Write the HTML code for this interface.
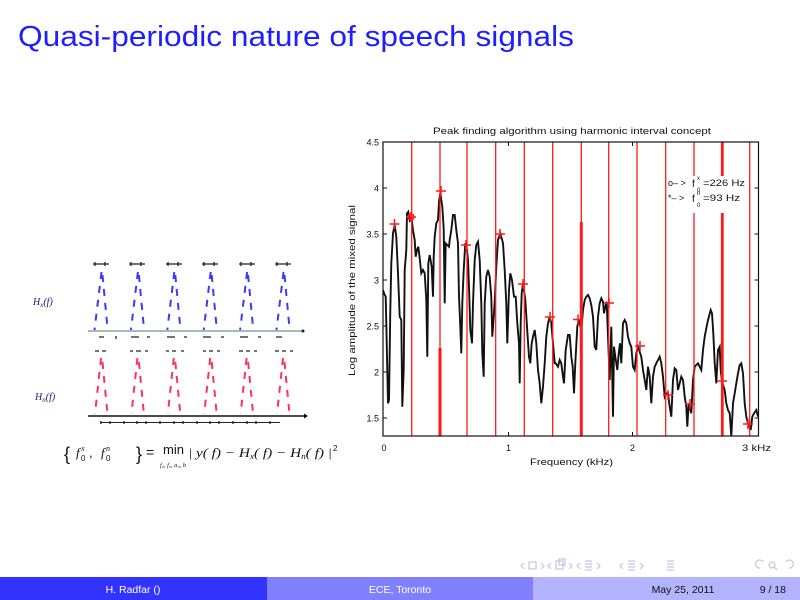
<!DOCTYPE html>
<html><head><meta charset="utf-8"><style>
html,body{margin:0;padding:0;background:#fff;width:800px;height:600px;overflow:hidden}
svg{display:block}
text{font-family:"Liberation Sans",sans-serif}
.ser{font-family:"Liberation Serif",serif;font-style:italic}
</style></head><body>
<svg width="800" height="600" viewBox="0 0 800 600" xmlns="http://www.w3.org/2000/svg">
<rect width="800" height="600" fill="#fff"/>
<!-- Title -->
<text x="18" y="46" font-size="29" fill="#1e1eff" textLength="556" lengthAdjust="spacingAndGlyphs">Quasi-periodic nature of speech signals</text>

<!-- ===== Left diagram ===== -->
<g stroke-width="2" fill="none" stroke-dasharray="7 7">
  <g stroke="#3a3aff">
    <path d="M101.5 272 L94.5 330 M102.5 275 L107.5 328"/>
    <path d="M137.9 272 L130.9 330 M138.9 275 L143.9 328"/>
    <path d="M174.3 272 L167.3 330 M175.3 275 L180.3 328"/>
    <path d="M210.7 272 L203.7 330 M211.7 275 L216.7 328"/>
    <path d="M247.1 272 L240.1 330 M248.1 275 L253.1 328"/>
    <path d="M283.5 272 L276.5 330 M284.5 275 L289.5 328"/>
  </g>
  <g stroke="#ff3355">
    <path d="M101 358 L95 414 M102.5 362 L107.5 414"/>
    <path d="M137.4 358 L131.4 414 M138.9 362 L143.9 414"/>
    <path d="M173.8 358 L167.8 414 M175.3 362 L180.3 414"/>
    <path d="M210.2 358 L204.2 414 M211.7 362 L216.7 414"/>
    <path d="M246.6 358 L240.6 414 M248.1 362 L253.1 414"/>
    <path d="M283 358 L277 414 M284.5 362 L289.5 414"/>
  </g>
</g>
<line x1="88" y1="331" x2="303" y2="331" stroke="#a9b9b9" stroke-width="2"/>
<circle cx="303" cy="331" r="1.5" fill="#222"/>
<line x1="88" y1="416" x2="304" y2="416" stroke="#111" stroke-width="1.5"/>
<path d="M304 413.5 L308 416 L304 418.5Z" fill="#111"/>
<g stroke="#222" stroke-width="1.3">
  <path d="M93 264 h16 M95 262v4 M105 262v4"/>
  <path d="M129 264 h16 M131 262v4 M141 262v4"/>
  <path d="M166 264 h16 M168 262v4 M178 262v4"/>
  <path d="M202 264 h16 M204 262v4 M214 262v4"/>
  <path d="M239 264 h16 M241 262v4 M251 262v4"/>
  <path d="M275 264 h16 M277 262v4 M287 262v4"/>
  <path d="M99 337 h5 M116 336v3 M131 337 h8 M147 337 h3 M167 337 h8 M184 337 h3 M203 337 h8 M221 337 h3 M240 337 h8 M258 337 h3 M276 337 h6"/>
  <path d="M95 351 h4 M102 351 h4 M130 351 h3 M136 351 h5 M145 351 h3 M166 351 h3 M172 351 h4 M181 351 h3 M203 351 h3 M209 351 h4 M217 351 h3 M239 351 h4 M246 351 h4 M254 351 h3 M275 351 h4 M282 351 h4 M290 351 h3"/>
  <path d="M100 422.5 H280" stroke-width="1"/>
  <path d="M101 421 v3 M110 421v3 M124 421v3 M137 421v3 M146 421v3 M160 421v3 M174 421v3 M183 421v3 M197 421v3 M210 421v3 M219 421v3 M233 421v3 M247 421v3 M256 421v3 M270 421v3"/>
</g>
<text x="33" y="305" class="ser" font-size="10" fill="#1a1a80">H<tspan font-size="7" dy="2">x</tspan><tspan dy="-2">(f)</tspan></text>
<text x="35" y="400" class="ser" font-size="10" fill="#1a1a80">H<tspan font-size="7" dy="2">n</tspan><tspan dy="-2">(f)</tspan></text>
<!-- formula -->
<g fill="#111">
<text x="64" y="460" font-family="Liberation Serif,serif" font-size="18">{</text>
<text x="76" y="457" class="ser" font-size="13">f</text>
<text x="81" y="461" font-family="Liberation Serif,serif" font-size="8">0</text>
<text x="81" y="451" class="ser" font-size="8">x</text>
<text x="89" y="457" font-family="Liberation Serif,serif" font-size="13">,</text>
<text x="101" y="457" class="ser" font-size="13">f</text>
<text x="106" y="461" font-family="Liberation Serif,serif" font-size="8">0</text>
<text x="106" y="451" class="ser" font-size="8">n</text>
<text x="136" y="460" font-family="Liberation Serif,serif" font-size="18">}</text>
<text x="146" y="457" font-family="Liberation Serif,serif" font-size="14">=</text>
<text x="163" y="454" font-family="Liberation Serif,serif" font-size="13" textLength="21" lengthAdjust="spacingAndGlyphs">min</text>
<text x="160" y="467" class="ser" font-size="6" textLength="26" lengthAdjust="spacingAndGlyphs">f₀, f₀, a₀, b</text>
<text x="188" y="457" class="ser" font-size="13" textLength="144" lengthAdjust="spacingAndGlyphs">| y( f) − H<tspan font-size="8" dy="2">x</tspan><tspan dy="-2">( f) − H</tspan><tspan font-size="8" dy="2">n</tspan><tspan dy="-2">( f) |</tspan></text>
<text x="333" y="451" font-family="Liberation Serif,serif" font-size="8">2</text>
</g>

<!-- ===== Right chart ===== -->
<text x="433" y="134" font-size="9.5" fill="#111" textLength="278" lengthAdjust="spacingAndGlyphs">Peak finding algorithm using harmonic interval concept</text>
<defs><clipPath id="pc"><rect x="383" y="142" width="375.5" height="294"/></clipPath></defs>
<g clip-path="url(#pc)">
<polyline fill="none" stroke="#111" stroke-width="1.9" stroke-linejoin="miter" points="
383,290 384.0,293.3 385.7,296.7 386.3,323.3 388,403.3 389,400 390.3,310 391.3,263.3 393,233.3 394.7,225 396.3,236.7 398,273.3 399.7,316.7 401.3,320 402.3,406.7 403.7,370 404.7,270 406.3,250 407,213.3 408.3,211.7 409.7,220 411.3,216.7 413,230 414.7,240 415.7,256.7 417,250 418.3,246.7 419.7,258.3 421.3,273.3 423,270 424.7,273.3 426.3,300 427.3,356.7 428.3,263.3 429.7,255 431.7,266.7 433,296.7 433.7,256.7 434.7,236.7 436.3,223.3 438,220 439,201.7 440.3,193.3 442.3,206.7 443.7,228.3 444.7,303.3 445.7,243.3 447.3,245 449,246.7 449.7,240 451.3,230 453,215 454.7,215 456.3,230 458,243.3 459,296.7 460.3,326.7 461.3,353.3 462.3,303.3 463.7,270 465.3,243.3 467,250 468,260 469,286.7 470.3,330 472,343.3 473,303.3 474.7,260 476.3,245 478,241.7 479.7,260 481.3,303.3 482.3,353.3 483.7,376.7 484.7,303.3 486.3,276.7 488,270 489.7,276.7 491.3,296.7 492.3,336.7 494,313.3 495,296.7 496.3,266.7 498,240 500.3,233.3 503,243.3 504.7,270 506.3,303.3 507.3,343.3 509,290 510.3,273.3 512,280 514,296.7 515.7,296.7 517.3,323.3 519,343.3 519.7,383.3 520.7,323.3 521.7,293.3 523,283.3 525.3,300 527,326.7 529,356.7 530.3,363.3 531.7,343.3 533,336.7 534.7,330 536.3,343.3 538,370 539.7,383.3 541.3,403.3 543,386.7 544.7,363.3 546.3,336.7 548,323.3 549.7,316.7 551.3,323.3 553,343.3 554.7,363.3 555.7,363.3 558,366.7 559.7,360 561.3,363.3 563,376.7 564,383.3 565.7,350 568,335 569.7,335 571.3,356.7 572.7,366.7 574,393.3 575.3,363.3 577.3,326.7 578.7,320 579.7,323.3 581.3,330 583,310 584.7,300 586.3,296.7 588,295 589.7,298.3 591.3,305 593,316.7 594.7,346.7 596.3,350 598,316.7 599.7,303.3 601.3,298.3 603,301.7 604,313.3 605.3,306.7 606.7,301.7 608,336.7 609.7,380 611.3,326.7 613,416.7 614,346.7 615.3,356.7 617.3,370 618.7,353.3 620,343.3 621.3,363.3 623,323.3 624.7,320 626.3,323.3 628,336.7 629.7,343.3 631.3,346.7 633,366.7 634.7,370 636.3,353.3 638,346.7 641.3,356.7 643,370 644.7,380 646.3,390 648,366.7 649.7,376.7 651.3,403.3 653,376.7 654.7,366.7 656.3,363.3 658,360 659.7,356.7 661.3,363.3 663,376.7 664.7,396.7 666.3,393.3 668,393.3 669.7,406.7 671.3,416.7 673,380 674.7,368.3 676.3,370 678,390 679.7,383.3 681.3,376.7 683,380 684.7,396.7 686.3,406.7 687.3,426.7 688.7,403.3 691.3,413.3 693,380 694.7,366.7 696.3,365 698,363.3 699.7,366.7 701.3,370 703,350 704.7,336.7 706.3,328.3 708,320 710.7,310 712,313.3 713.3,333.3 714.7,363.3 716.3,383.3 718,350 719.7,346.7 720.7,370 722,381.7 724.7,390 726.3,403.3 728,410 729.7,413.3 731.3,436.7 733,403.3 734.7,393.3 736.3,383.3 738,373.3 739.7,365 741.3,363.3 743,373.3 744.7,403.3 746.3,416.7 748,423.3 750.7,430 752.3,416.7 754,413.3 756.3,410 758,416.7"/>
<!-- red harmonic lines -->
<g stroke="#ff1a1a" stroke-width="1.3">
  <line x1="411.7" y1="142" x2="411.7" y2="436"/>
  <line x1="440" y1="142" x2="440" y2="436"/>
  <line x1="467" y1="142" x2="467" y2="436"/>
  <line x1="495.7" y1="142" x2="495.7" y2="436"/>
  <line x1="524.3" y1="142" x2="524.3" y2="436"/>
  <line x1="552.7" y1="142" x2="552.7" y2="436"/>
  <line x1="581.3" y1="142" x2="581.3" y2="436"/>
  <line x1="608.7" y1="142" x2="608.7" y2="436"/>
  <line x1="637" y1="142" x2="637" y2="436"/>
  <line x1="665.7" y1="142" x2="665.7" y2="436"/>
  <line x1="694" y1="142" x2="694" y2="436"/>
  <line x1="722.3" y1="142" x2="722.3" y2="436" stroke-width="2.8"/>
  <line x1="749.7" y1="142" x2="749.7" y2="436"/>
  <line x1="440" y1="348" x2="440" y2="436" stroke-width="3"/>
  <line x1="581.3" y1="222" x2="581.3" y2="436" stroke-width="3"/>
</g>
<!-- markers -->
<g stroke="#ff1a1a" stroke-width="1.5" fill="none">
  <path d="M389.5 224h10M394.5 219v10"/>
  <path d="M406 217h10M411 212v10"/><circle cx="411" cy="217" r="3"/>
  <path d="M436 191h10M441 186v10"/>
  <path d="M461 245h10M466 240v10"/>
  <path d="M495 234h10M500 229v10"/>
  <path d="M518 284h10M523 279v10"/>
  <path d="M545 317h10M550 312v10"/>
  <path d="M573 319.5h10M578 314.5v10"/>
  <path d="M604 303h10M609 298v10"/>
  <path d="M635 346h10M640 341v10"/>
  <path d="M663 395h10M668 390v10"/>
  <path d="M685 404h10M690 399v10"/>
  <path d="M717 381h10M722 376v10"/>
  <path d="M743 424h10M748 419v10"/>
</g>
</g>
<!-- legend -->
<rect x="668" y="176" width="78" height="37" fill="#fff"/>
<g fill="#111" font-size="9">
  <text x="668" y="186">o– &gt;</text>
  <text x="692" y="187" font-size="10">f</text>
  <text x="697" y="192" font-size="6">0</text>
  <text x="697" y="180" font-size="6">x</text>
  <text x="703" y="186" textLength="42" lengthAdjust="spacingAndGlyphs">=226 Hz</text>
  <text x="668" y="201">*– &gt;</text>
  <text x="692" y="202" font-size="10">f</text>
  <text x="697" y="207" font-size="6">0</text>
  <text x="697" y="195" font-size="6">n</text>
  <text x="703" y="201" textLength="37" lengthAdjust="spacingAndGlyphs">=93  Hz</text>
</g>
<!-- axes box -->
<rect x="383" y="142" width="375.5" height="294" fill="none" stroke="#111" stroke-width="1.2"/>
<g stroke="#111" stroke-width="1">
  <path d="M383 188h4M383 234h4M383 280h4M383 326h4M383 372h4M383 418h4"/>
  <path d="M758.5 188h-4M758.5 234h-4M758.5 280h-4M758.5 326h-4M758.5 372h-4M758.5 418h-4"/>
  <path d="M508.5 142v4M632.5 142v4M508.5 436v-4M632.5 436v-4"/>
</g>
<g fill="#111" font-size="9" text-anchor="end">
  <text x="379" y="145.5">4.5</text>
  <text x="379" y="191.5">4</text>
  <text x="379" y="237.5">3.5</text>
  <text x="379" y="283.5">3</text>
  <text x="379" y="329.5">2.5</text>
  <text x="379" y="375.5">2</text>
  <text x="379" y="421.5">1.5</text>
</g>
<g fill="#111" font-size="9" text-anchor="middle">
  <text x="384" y="451">0</text>
  <text x="508.5" y="451">1</text>
  <text x="632.5" y="451">2</text>
</g>
<text x="742" y="451" font-size="9" fill="#111" textLength="29" lengthAdjust="spacingAndGlyphs">3 kHz</text>
<text x="530" y="465" font-size="9" fill="#111" textLength="83" lengthAdjust="spacingAndGlyphs">Frequency (kHz)</text>
<text transform="translate(355,376) rotate(-90)" font-size="9" fill="#111" textLength="171" lengthAdjust="spacingAndGlyphs">Log amplitude of the mixed signal</text>

<!-- nav icons -->
<g fill="none" stroke="#c4c4e6" stroke-width="1.2">
  <path d="M524 563l-3 3 3 3"/><rect x="529" y="562" width="7" height="7"/><path d="M541 563l3 3-3 3"/>
  <path d="M551 563l-3 3 3 3"/><rect x="556" y="561" width="7" height="8"/><rect x="559" y="559" width="6" height="6"/><path d="M569 563l3 3-3 3"/>
  <path d="M580 563l-3 3 3 3"/><path d="M585 561h7M585 564h7M585 567h7M585 570h7"/><path d="M597 563l3 3-3 3"/>
  <path d="M623 563l-3 3 3 3"/><path d="M628 561h7M628 564h7M628 567h7M628 570h7"/><path d="M640 563l3 3-3 3"/>
  <path d="M667 561h7M667 564h7M667 567h7M667 570h7"/>
  <path d="M760 568a4 4 0 1 1 3 -6"/><circle cx="772" cy="565" r="3"/><path d="M774 567l3 3"/><path d="M789 568a4 4 0 1 0 -3 -6"/>
</g>

<!-- footer -->
<rect x="0" y="577" width="267" height="23" fill="#3333ff"/>
<rect x="267" y="577" width="266" height="23" fill="#8080ff"/>
<rect x="533" y="577" width="267" height="23" fill="#b3b3ff"/>
<text x="133" y="593" font-size="10.5" fill="#fff" text-anchor="middle">H. Radfar ()</text>
<text x="400" y="593" font-size="10.5" fill="#fff" text-anchor="middle">ECE, Toronto</text>
<text x="683" y="593" font-size="10.5" fill="#111" text-anchor="middle">May 25, 2011</text>
<text x="786" y="593" font-size="10.5" fill="#111" text-anchor="end">9 / 18</text>
</svg>
</body></html>
